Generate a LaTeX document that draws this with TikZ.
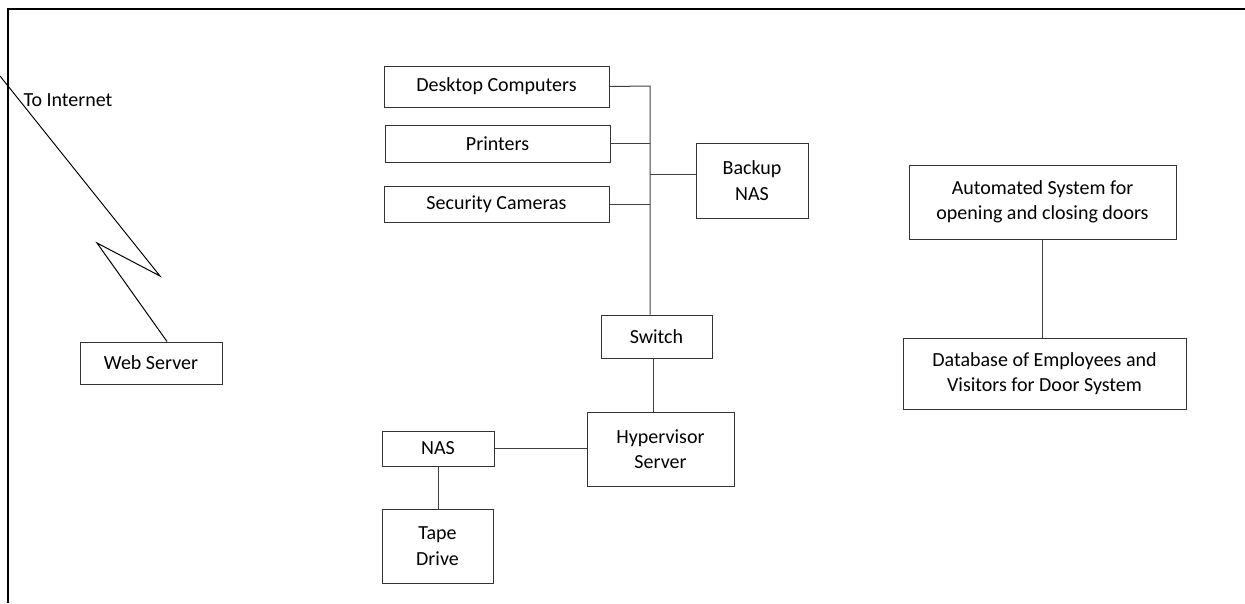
\documentclass[tikz,border=0pt]{standalone}
\usepackage{fontspec}
\setmainfont{Carlito}

\begin{document}
\begin{tikzpicture}[x=1pt,y=-1pt,
  box/.style={draw=black!80,line width=1pt,rectangle,align=center,inner sep=0pt,
    font=\fontsize{20}{25.5}\selectfont},
  wire/.style={draw=black!75,line width=1pt}]
  \useasboundingbox (0,0) rectangle (1245,603);
   \coordinate (Inet) at (0,76);
   \coordinate (Kone) at (160,276);
   \coordinate (Ktwo) at (97,243);
   \coordinate (BusTop) at (650,86);
   \coordinate (BusNas) at (650,174);
    \draw[line width=2.5pt] (8,603) -- (8,9) -- (1245,9);
  \node[box,minimum width=142,minimum height=42] (WebServer) at (151,363) {Web Server};
  \node[anchor=west,font=\fontsize{20}{25.5}\selectfont] (InetLabel) at (20,100) {To Internet};
  \node[box,minimum width=225,minimum height=41] (Desktop) at (496.5,86.5) {Desktop Computers};
  \node[box,minimum width=225,minimum height=37] (Printers) at (497.5,143.5) {Printers};
  \node[box,minimum width=225,minimum height=36] (Cameras) at (496.5,204) {Security Cameras};
  \node[box,minimum width=112,minimum height=75] (BackupNas) at (752,180.5) {Backup\\NAS};
  \node[box,minimum width=111,minimum height=43] (Switch) at (656.5,336.5) {Switch};
  \node[box,minimum width=147,minimum height=74] (Hyper) at (660.5,449) {Hypervisor\\Server};
  \node[box,minimum width=112,minimum height=35] (Nas) at (438,448.5) {NAS};
  \node[box,minimum width=111,minimum height=74] (Tape) at (437.5,546) {Tape\\Drive};
  \node[box,minimum width=267,minimum height=74] (DoorSys) at (1042.5,202) {Automated System for\\opening and closing doors};
  \node[box,minimum width=283,minimum height=71] (DoorDb) at (1044.5,373.5) {Database of Employees and\\Visitors for Door System};
  % lightning link to the internet
  \draw[line width=1pt] (Inet) -- (Kone) -- (Ktwo) -- ([xshift=16]WebServer.north);
  % switch bus
  \draw[wire] (Desktop.east) -- (BusTop) -- (BusTop |- Switch.north);
  \draw[wire] (Printers.east) -- (Printers.east -| BusTop);
  \draw[wire] (Cameras.east) -- (Cameras.east -| BusTop);
  \draw[wire] (BusNas) -- (BusNas -| BackupNas.west);
  \draw[wire] ([xshift=-3.5]Switch.south) -- ([xshift=-3.5]Switch.south |- Hyper.north);
  \draw[wire] (Nas.east) -- (Nas.east -| Hyper.west);
  \draw[wire] (Nas.south) -- (Nas.south |- Tape.north);
  \draw[wire] (DoorSys.south) -- (DoorSys.south |- DoorDb.north);
 \end{tikzpicture}
\end{document}
